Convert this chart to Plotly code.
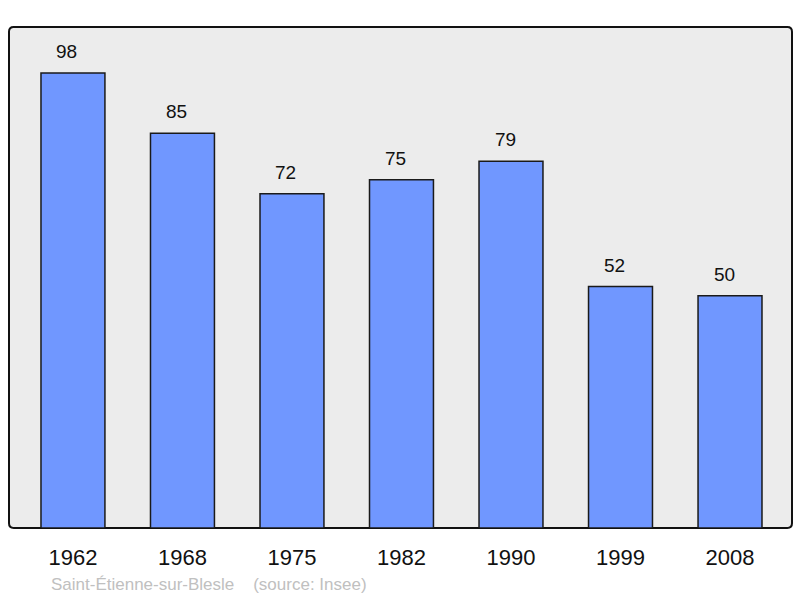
import plotly.graph_objects as go

years = ["1962", "1968", "1975", "1982", "1990", "1999", "2008"]
population = [98, 85, 72, 75, 79, 52, 50]
footer_text = "Saint-Étienne-sur-Blesle    (source: Insee)"

fig = go.Figure()
fig.add_trace(go.Bar(
    x=list(range(len(years))), y=population, width=0.584,
    marker=dict(color="#7097ff", line=dict(color="#1a1a1a", width=1.5)),
    hoverinfo="skip",
))

for i, v in enumerate(population):
    fig.add_annotation(x=i, y=v, text=str(v), showarrow=False,
                       yanchor="bottom", yshift=9, xshift=-6,
                       font=dict(family="Liberation Sans, Arial", size=19, color="#111"))

# plot frame with rounded corners
r = 0.006
fig.add_shape(type="path", xref="paper", yref="paper",
              path=(f"M {r},0 L {1-r},0 Q 1,0 1,{r*1.56} L 1,{1-r*1.56} Q 1,1 {1-r},1 "
                    f"L {r},1 Q 0,1 0,{1-r*1.56} L 0,{r*1.56} Q 0,0 {r},0 Z"),
              fillcolor="#ececec", line=dict(color="#111", width=2), layer="below")

fig.add_annotation(xref="paper", yref="paper", x=(49-9)/783, y=-(584-528)/501,
                   xanchor="left", yanchor="middle", showarrow=False,
                   text=footer_text,
                   font=dict(family="Liberation Sans, Arial", size=17, color="#c0c0c0"))

fig.update_layout(
    width=800, height=598,
    margin=dict(l=9, r=8, t=27, b=70),
    paper_bgcolor="white", plot_bgcolor="rgba(0,0,0,0)",
    showlegend=False,
    xaxis=dict(range=[-0.584, 6.566], showgrid=False, zeroline=False,
               showline=False, ticks="", ticklabelstandoff=14,
               tickmode="array", tickvals=list(range(len(years))), ticktext=years,
               tickfont=dict(family="Liberation Sans, Arial", size=22, color="#111")),
    yaxis=dict(range=[0, 107.9], showgrid=False, zeroline=False, showline=False,
               showticklabels=False, ticks=""),
)

fig.write_html("out.html", config={"displayModeBar": False},
               post_script="document.body.style.margin='0';")
